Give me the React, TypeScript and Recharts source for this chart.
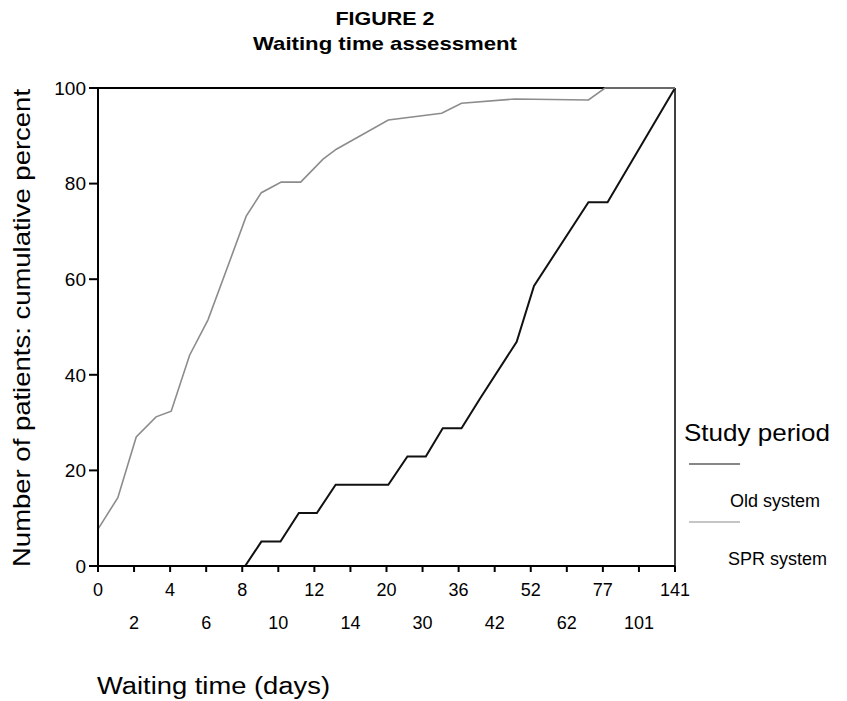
import { LineChart, Line, XAxis, YAxis, ReferenceLine } from "recharts";

// x positions are tick slots (0..16); the axis is ordinal in the original figure
const tickLabels = ["0", "2", "4", "6", "8", "10", "12", "14", "20", "30", "36", "42", "52", "62", "77", "101", "141"];
const tickSlots = tickLabels.map((_, i) => i);
const yTicks = [0, 20, 40, 60, 80, 100];

const oldSystemPos = [0, 4.08, 4.53, 5.06, 5.57, 6.07, 6.59, 8.05, 8.58, 9.09, 9.56, 10.08, 10.59, 11.61, 12.09, 13.6, 14.13, 16];
const oldSystemPct = [0, 0, 5.1, 5.1, 11.1, 11.1, 17, 17, 22.9, 22.9, 28.8, 28.8, 35, 46.9, 58.6, 76.1, 76.1, 100];

const sprSystemPos = [0, 0.55, 1.06, 1.61, 2.03, 2.54, 3.05, 3.6, 4.11, 4.53, 5.08, 5.62, 6.24, 6.61, 8.05, 9.53, 10.08, 11.56, 13.6, 14.06, 16];
const sprSystemPct = [7.7, 14.3, 27, 31.2, 32.4, 44.1, 51.5, 62.7, 73.2, 78.1, 80.3, 80.3, 85.1, 87.2, 93.3, 94.7, 96.8, 97.7, 97.5, 100, 100];

const oldData = oldSystemPos.map((x, i) => ({ x, pct: oldSystemPct[i] }));
const sprData = sprSystemPos.map((x, i) => ({ x, pct: sprSystemPct[i] }));

const FONT = '"Liberation Sans", Arial, sans-serif';
const OLD_COLOR = "#111";
const SPR_COLOR = "#8c8c8c";

function XTick(props: any) {
  const { x, y, payload } = props;
  const i = payload.value as number;
  const row2 = i % 2 === 1;
  return (
    <text
      x={x}
      y={y + (row2 ? 55 : 22)}
      textAnchor="middle"
      fontSize={18}
      fontFamily={FONT}
      fill="#000"
    >
      {tickLabels[i]}
    </text>
  );
}

export default function App() {
  return (
    <div style={{ position: "absolute", left: 0, top: 0, width: 847, height: 701, background: "#fff" }}>
      <LineChart
        width={847}
        height={701}
        margin={{ top: 88, right: 172, bottom: 55, left: 38 }}
      >
        <XAxis
          type="number"
          dataKey="x"
          domain={[0, 16]}
          ticks={tickSlots}
          interval={0}
          tick={<XTick />}
          tickSize={6}
          tickMargin={2}
          height={80}
          stroke="#000"
          strokeWidth={2}
          allowDuplicatedCategory={false}
        />
        <YAxis
          type="number"
          domain={[0, 100]}
          ticks={yTicks}
          width={60}
          tickSize={9}
          tickMargin={3}
          stroke="#000"
          strokeWidth={2}
          tick={{ fontSize: 19, fontFamily: FONT, fill: "#000" }}
        />
        <ReferenceLine y={100} stroke="#000" strokeWidth={2} />
        <ReferenceLine x={16} stroke="#000" strokeWidth={1.5} />
        <Line
          data={oldData}
          dataKey="pct"
          type="linear"
          stroke={OLD_COLOR}
          strokeWidth={2}
          dot={false}
          isAnimationActive={false}
        />
        <Line
          data={sprData}
          dataKey="pct"
          type="linear"
          stroke={SPR_COLOR}
          strokeWidth={1.6}
          dot={false}
          isAnimationActive={false}
        />
      </LineChart>
      <svg
        width={847}
        height={701}
        style={{ position: "absolute", left: 0, top: 0, pointerEvents: "none" }}
        fontFamily={FONT}
      >
        <text x={385} y={25} textAnchor="middle" fontSize={19} fontWeight="bold" textLength={99} lengthAdjust="spacingAndGlyphs">
          FIGURE 2
        </text>
        <text x={385} y={50} textAnchor="middle" fontSize={19} fontWeight="bold" textLength={264} lengthAdjust="spacingAndGlyphs">
          Waiting time assessment
        </text>
        <text
          transform="translate(30, 328) rotate(-90)"
          textAnchor="middle"
          fontSize={24}
          textLength={478}
          lengthAdjust="spacingAndGlyphs"
        >
          Number of patients: cumulative percent
        </text>
        <text x={97} y={694} fontSize={23} textLength={233} lengthAdjust="spacingAndGlyphs">
          Waiting time (days)
        </text>
        <text x={684} y={441} fontSize={24} textLength={146} lengthAdjust="spacingAndGlyphs">
          Study period
        </text>
        <line x1={689} x2={740} y1={464} y2={464} stroke={OLD_COLOR} strokeWidth={1.2} />
        <text x={730} y={507} fontSize={18}>Old system</text>
        <line x1={689} x2={740} y1={522} y2={522} stroke={SPR_COLOR} strokeWidth={1.2} />
        <text x={728} y={565} fontSize={18}>SPR system</text>
      </svg>
    </div>
  );
}
